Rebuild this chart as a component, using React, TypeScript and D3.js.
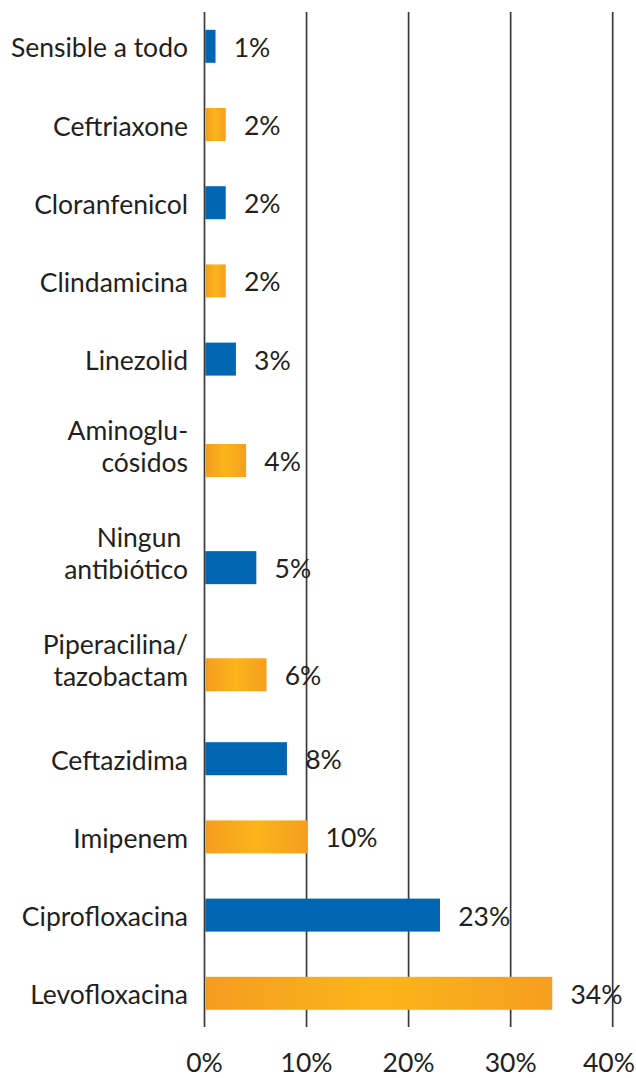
import * as d3 from "d3";

const categories = [
  "Sensible a todo",
  "Ceftriaxone",
  "Cloranfenicol",
  "Clindamicina",
  "Linezolid",
  "Aminoglu-|cósidos",
  "Ningun |antibiótico",
  "Piperacilina/|tazobactam",
  "Ceftazidima",
  "Imipenem",
  "Ciprofloxacina",
  "Levofloxacina",
];
const values = [1, 2, 2, 2, 3, 4, 5, 6, 8, 10, 23, 34];
const xTicks = [0, 10, 20, 30, 40];

const WIDTH = 636;
const HEIGHT = 1078;
const BLUE = "#0066b3";
const TEXT = "#231f20";
const FONT = "Lato, 'Open Sans', sans-serif";
const FONT_SIZE = 26.5;
const BAR_H = 33;
const TWO_LINE_ROW = 1.37; // two-line labels get a taller row
const TWO_LINE_SHIFT = 8.75; // bar sits lower, beside the second line
const LINE_GAP = 32;

export default function App() {
  const lines = categories.map((c) => c.split("|"));
  const units = lines.map((l) => (l.length > 1 ? TWO_LINE_ROW : 1));
  const starts = units.map((_, i) => d3.sum(units.slice(0, i)));
  const total = d3.sum(units);

  const x = d3.scaleLinear().domain([0, 40]).range([204.5, 612.7]);
  const y = d3.scaleLinear().domain([0, total]).range([7.2, 7.2 + total * 78.2]);

  const barY = (i: number) =>
    y(starts[i] + units[i] / 2) + (lines[i].length > 1 ? TWO_LINE_SHIFT : 0);

  return (
    <svg
      width={WIDTH}
      height={HEIGHT}
      style={{ position: "absolute", left: 0, top: 0, display: "block" }}
      fontFamily={FONT}
    >
      <defs>
        <linearGradient id="orange" x1="0" x2="1" y1="0" y2="0">
          <stop offset="0" stopColor="#f49c20" />
          <stop offset="0.5" stopColor="#fbb51a" />
          <stop offset="1" stopColor="#f59e1f" />
        </linearGradient>
      </defs>

      {/* gridlines */}
      {xTicks.map((t) => (
        <line
          key={t}
          x1={x(t)}
          x2={x(t)}
          y1={12}
          y2={1027}
          stroke="#3a3a3a"
          strokeWidth={1.7}
        />
      ))}

      {/* bars */}
      {values.map((v, i) => (
        <rect
          key={i}
          x={x(0) + 0.8}
          y={barY(i) - BAR_H / 2}
          width={x(v) - x(0)}
          height={BAR_H}
          fill={i % 2 === 0 ? BLUE : "url(#orange)"}
        />
      ))}

      {/* category labels */}
      {lines.map((l, i) => (
        <text key={i} textAnchor="end" fontSize={FONT_SIZE} fill={TEXT}>
          {l.map((s, j) => (
            <tspan
              key={j}
              x={188}
              y={barY(i) + 11 - (l.length - 1 - j) * LINE_GAP}
            >
              {s}
            </tspan>
          ))}
        </text>
      ))}

      {/* value labels */}
      {values.map((v, i) => (
        <text
          key={i}
          x={x(v) + 19}
          y={barY(i) + 10.5}
          fontSize={FONT_SIZE}
          fill={TEXT}
        >
          {`${v}%`}
        </text>
      ))}

      {/* x axis labels (last one nudged in so it stays inside the frame) */}
      {xTicks.map((t) => (
        <text
          key={t}
          x={Math.min(x(t), WIDTH - 27)}
          y={1072}
          textAnchor="middle"
          fontSize={FONT_SIZE}
          fill={TEXT}
        >
          {`${t}%`}
        </text>
      ))}
    </svg>
  );
}
